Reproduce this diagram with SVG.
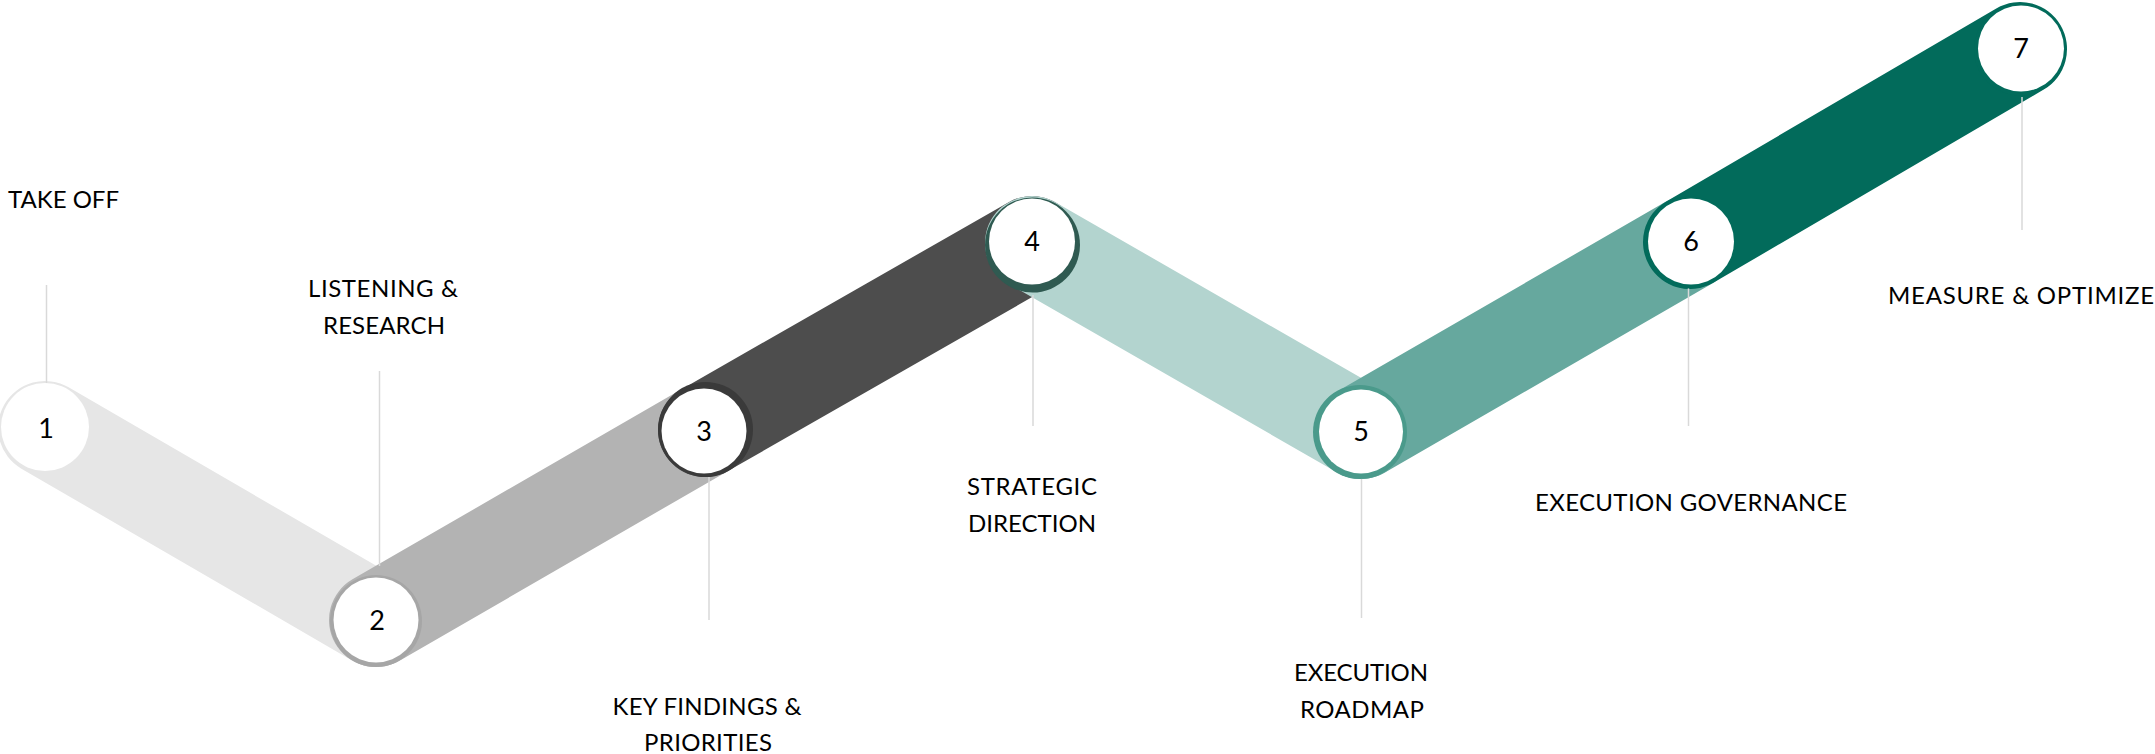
<svg xmlns="http://www.w3.org/2000/svg" width="2155" height="754" viewBox="0 0 2155 754">
<style>
.band{fill:none;stroke-width:94;stroke-linecap:round}
.lead{stroke:#d9d9d9;stroke-width:1.5;fill:none}
.face{fill:#ffffff}
.num{font-family:Lato,"Open Sans","Liberation Sans",sans-serif;font-size:27px;fill:#000000;text-anchor:middle}
.lbl{font-family:Lato,"Open Sans","Liberation Sans",sans-serif;font-size:24px;fill:#000000;text-anchor:middle}
.lbl.start{text-anchor:start}
</style>
<rect width="2155" height="754" fill="#ffffff"/>
<g id="connectors">
  <line class="band" x1="45" y1="428" x2="376" y2="620" stroke="#e6e6e6"/>
  <line class="band" x1="376" y1="620" x2="705" y2="430" stroke="#b3b3b3"/>
  <line class="band" x1="705" y1="430" x2="1032" y2="243" stroke="#4d4d4d"/>
  <line class="band" x1="1032" y1="243" x2="1361" y2="432" stroke="#b3d4cf"/>
  <line class="band" x1="1361" y1="432" x2="1690" y2="242" stroke="#66a89e"/>
  <line class="band" x1="1690" y1="242" x2="2020" y2="49" stroke="#026b5b"/>
  <line class="lead" x1="46.5" y1="285" x2="46.5" y2="383"/>
  <line class="lead" x1="379.5" y1="371" x2="379.5" y2="566"/>
  <line class="lead" x1="709" y1="477" x2="709" y2="620"/>
  <line class="lead" x1="1033" y1="295" x2="1033" y2="426"/>
  <line class="lead" x1="1361.5" y1="478" x2="1361.5" y2="618"/>
  <line class="lead" x1="1688.5" y1="287" x2="1688.5" y2="426"/>
  <line class="lead" x1="2022" y1="97" x2="2022" y2="230"/>
</g>
<g id="node1">
  <circle class="face" cx="45" cy="427" r="44"/>
  <text class="num" x="46" y="438">1</text>
  <text class="lbl start" x="8" y="208" textLength="111" lengthAdjust="spacing">TAKE OFF</text>
</g>
<g id="node2">
  <circle cx="376" cy="621" r="46" fill="#a6a6a6"/>
  <circle class="face" cx="376" cy="620" r="42.5"/>
  <text class="num" x="377" y="630">2</text>
  <text class="lbl" x="383" y="297" textLength="150" lengthAdjust="spacing">LISTENING &amp;</text>
  <text class="lbl" x="384" y="334" textLength="122" lengthAdjust="spacing">RESEARCH</text>
</g>
<g id="node3">
  <circle cx="705.5" cy="429.5" r="47.5" fill="#3a3a3a"/>
  <circle class="face" cx="704" cy="431" r="42.5"/>
  <text class="num" x="704" y="441">3</text>
  <text class="lbl" x="707" y="715" textLength="189" lengthAdjust="spacing">KEY FINDINGS &amp;</text>
  <text class="lbl" x="708" y="751" textLength="128" lengthAdjust="spacing">PRIORITIES</text>
</g>
<g id="node4">
  <circle cx="1032.5" cy="245" r="47.5" fill="#2f5a51"/>
  <circle class="face" cx="1032" cy="241.5" r="43"/>
  <text class="num" x="1032" y="251">4</text>
  <text class="lbl" x="1032" y="495" textLength="130" lengthAdjust="spacing">STRATEGIC</text>
  <text class="lbl" x="1032" y="532" textLength="128" lengthAdjust="spacing">DIRECTION</text>
</g>
<g id="node5">
  <circle cx="1360" cy="432" r="47" fill="#4a9a8b"/>
  <circle class="face" cx="1361" cy="431.5" r="42"/>
  <text class="num" x="1361" y="441">5</text>
  <text class="lbl" x="1361" y="681" textLength="134" lengthAdjust="spacing">EXECUTION</text>
  <text class="lbl" x="1362" y="718" textLength="124" lengthAdjust="spacing">ROADMAP</text>
</g>
<g id="node6">
  <circle cx="1690" cy="242.5" r="46" fill="#026b5b"/>
  <circle class="face" cx="1691" cy="241.5" r="43"/>
  <text class="num" x="1691" y="251">6</text>
  <text class="lbl" x="1691" y="511" textLength="312" lengthAdjust="spacing">EXECUTION GOVERNANCE</text>
</g>
<g id="node7">
  <circle cx="2020" cy="49.5" r="46" fill="#026b5b"/>
  <circle class="face" cx="2021" cy="48.5" r="43"/>
  <text class="num" x="2021" y="58">7</text>
  <text class="lbl" x="2021" y="304" textLength="266" lengthAdjust="spacing">MEASURE &amp; OPTIMIZE</text>
</g>
</svg>
